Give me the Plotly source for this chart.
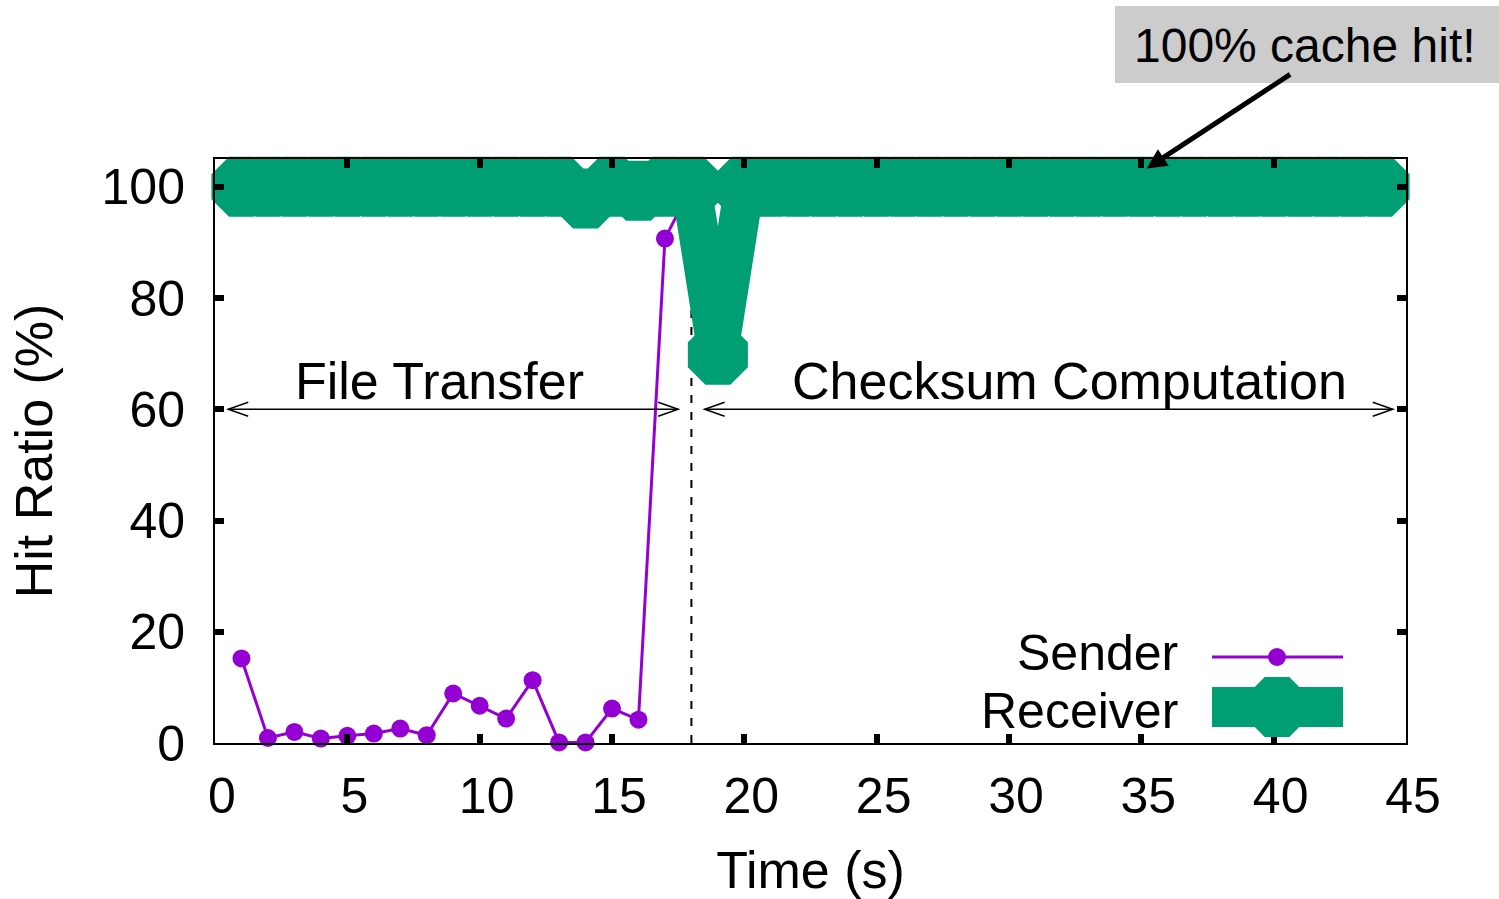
import plotly.graph_objects as go

# ---------------- data ----------------
sender_time = [1, 2, 3, 4, 5, 6, 7, 8, 9, 10, 11, 12, 13, 14, 15, 16, 17, 18]
sender_hit = [15.2, 0.9, 2.0, 0.8, 1.3, 1.7, 2.6, 1.4, 8.9, 6.7, 4.4, 11.3,
              0.1, 0.1, 6.2, 4.2, 90.7, 100]

receiver_time = list(range(1, 45))
receiver_hit = [100, 100, 100, 100, 100, 100, 100, 100, 100, 100, 100, 100,
                100, 97.9, 100, 99.3, 100, 100, 69.8, 100, 100, 100, 100, 100,
                100, 100, 100, 100, 100, 100, 100, 100, 100, 100, 100, 100,
                100, 100, 100, 100, 100, 100, 100, 100]

x_ticks = [0, 5, 10, 15, 20, 25, 30, 35, 40, 45]
y_ticks = [0, 20, 40, 60, 80, 100]

phase_split = 18
phase_labels = ["File Transfer", "Checksum Computation"]
phase_ranges = [(0.5, 17.5), (18.5, 44.5)]
phase_arrow_y = 60
callout_text = "100% cache hit!"
callout_target = (35.2, 103.3)

PURPLE = "#9400D3"
GREEN = "#009E73"
FONT = "Liberation Sans, Arial, Helvetica, sans-serif"
FS_TICK = 50
FS_TITLE = 52
FS_TEXT = 52
FS_LEG = 50
FS_CALL = 48

fig = go.Figure()

fig.add_trace(go.Scatter(
    x=sender_time, y=sender_hit, name="Sender", mode="lines+markers",
    line=dict(color=PURPLE, width=3),
    marker=dict(symbol="circle", size=18, color=PURPLE, line=dict(width=0)),
    cliponaxis=False, showlegend=False))

fig.add_trace(go.Scatter(
    x=receiver_time, y=receiver_hit, name="Receiver", mode="lines+markers",
    line=dict(color=GREEN, width=40),
    marker=dict(symbol="octagon", size=65, color=GREEN, line=dict(width=0)),
    cliponaxis=False, showlegend=False))

shapes = []
# dashed separator
shapes.append(dict(type="line", xref="x", yref="y", x0=phase_split, x1=phase_split,
                   y0=0, y1=100, line=dict(color="black", width=2, dash="8px,9px"),
                   layer="below"))
# double-headed phase arrows
for (a, b) in phase_ranges:
    shapes.append(dict(type="line", xref="x", yref="y", x0=a, x1=b,
                       y0=phase_arrow_y, y1=phase_arrow_y,
                       line=dict(color="black", width=1.5)))
    shapes.append(dict(type="path", xref="x", yref="y", xsizemode="pixel",
                       ysizemode="pixel", xanchor=a, yanchor=phase_arrow_y,
                       path="M20,7 L0,0 L20,-7", line=dict(color="black", width=1.5)))
    shapes.append(dict(type="path", xref="x", yref="y", xsizemode="pixel",
                       ysizemode="pixel", xanchor=b, yanchor=phase_arrow_y,
                       path="M-20,7 L0,0 L-20,-7", line=dict(color="black", width=1.5)))

# callout box
PL, PW, PT, PH = 215, 1191, 159, 584
def px(xp):
    return (xp - PL) / PW
def py(yp):
    return (PT + PH - yp) / PH

shapes.append(dict(type="rect", xref="paper", yref="paper",
                   x0=px(1115), x1=px(1499), y0=py(83), y1=py(6),
                   fillcolor="#cccccc", line=dict(width=0)))

# manual legend samples
lx0, lx1, lxm = px(1212), px(1343), px(1277)
ly_s, ly_r = py(657), py(707)
shapes.append(dict(type="line", xref="paper", yref="paper", x0=lx0, x1=lx1,
                   y0=ly_s, y1=ly_s, line=dict(color=PURPLE, width=3)))
shapes.append(dict(type="circle", xref="paper", yref="paper", xsizemode="pixel",
                   ysizemode="pixel", xanchor=lxm, yanchor=ly_s,
                   x0=-9, x1=9, y0=-9, y1=9, fillcolor=PURPLE, line=dict(width=0)))
shapes.append(dict(type="rect", xref="paper", yref="paper", xsizemode="pixel",
                   ysizemode="pixel", xanchor=lx0, yanchor=ly_r,
                   x0=0, x1=131, y0=-20, y1=20, fillcolor=GREEN, line=dict(width=0)))
shapes.append(dict(type="path", xref="paper", yref="paper", xsizemode="pixel",
                   ysizemode="pixel", xanchor=lxm, yanchor=ly_r,
                   path="M-12.3,-29.9 H12.3 L29.9,-12.3 V12.3 L12.3,29.9 H-12.3 L-29.9,12.3 V-12.3 Z",
                   fillcolor=GREEN, line=dict(width=0)))

annotations = []
annotations.append(dict(x=8.5, y=65, xref="x", yref="y", text=phase_labels[0],
                        xanchor="center", yanchor="middle", showarrow=False,
                        font=dict(size=FS_TEXT, family=FONT, color="black")))
annotations.append(dict(x=32.3, y=65, xref="x", yref="y", text=phase_labels[1],
                        xanchor="center", yanchor="middle", showarrow=False,
                        font=dict(size=FS_TEXT, family=FONT, color="black")))
annotations.append(dict(x=px(1305), y=py(45), xref="paper", yref="paper", text=callout_text,
                        xanchor="center", yanchor="middle", showarrow=False,
                        font=dict(size=FS_CALL, family=FONT, color="black")))
annotations.append(dict(x=callout_target[0], y=callout_target[1], xref="x", yref="y",
                        text="", showarrow=True, arrowhead=2, arrowwidth=5, arrowsize=0.8,
                        arrowcolor="black", ax=145, ay=-95, standoff=0))
annotations.append(dict(x=px(1179), y=py(653), xref="paper", yref="paper", text="Sender",
                        xanchor="right", yanchor="middle", showarrow=False,
                        borderpad=0,
                        font=dict(size=FS_LEG, family=FONT, color="black")))
annotations.append(dict(x=px(1179), y=py(711), xref="paper", yref="paper", text="Receiver",
                        xanchor="right", yanchor="middle", showarrow=False,
                        borderpad=0,
                        font=dict(size=FS_LEG, family=FONT, color="black")))

axis_common = dict(showgrid=False, zeroline=False, showline=True, linecolor="black",
                   linewidth=2, mirror="ticks", ticks="inside", ticklen=9,
                   tickwidth=6, tickcolor="black", automargin=False,
                   tickfont=dict(size=FS_TICK, family=FONT, color="black"))

fig.update_layout(
    width=1499, height=899,
    margin=dict(l=PL, r=1499 - PL - PW, t=PT, b=899 - PT - PH, autoexpand=False),
    paper_bgcolor="white", plot_bgcolor="white",
    xaxis=dict(range=[0, 45], tickvals=x_ticks, ticktext=[str(v) for v in x_ticks],
               title=dict(text="Time (s)", font=dict(size=FS_TITLE, family=FONT, color="black"),
                          standoff=32),
               ticklabelstandoff=8, ticklabelshift=7, **axis_common),
    yaxis=dict(range=[0, 105], tickvals=y_ticks, ticktext=[str(v) for v in y_ticks],
               title=dict(text="Hit Ratio (%)", font=dict(size=FS_TITLE, family=FONT, color="black"),
                          standoff=32),
               ticklabelstandoff=18, **axis_common),
    shapes=shapes, annotations=annotations, showlegend=False,
    font=dict(family=FONT),
)

fig.write_html("out.html")
